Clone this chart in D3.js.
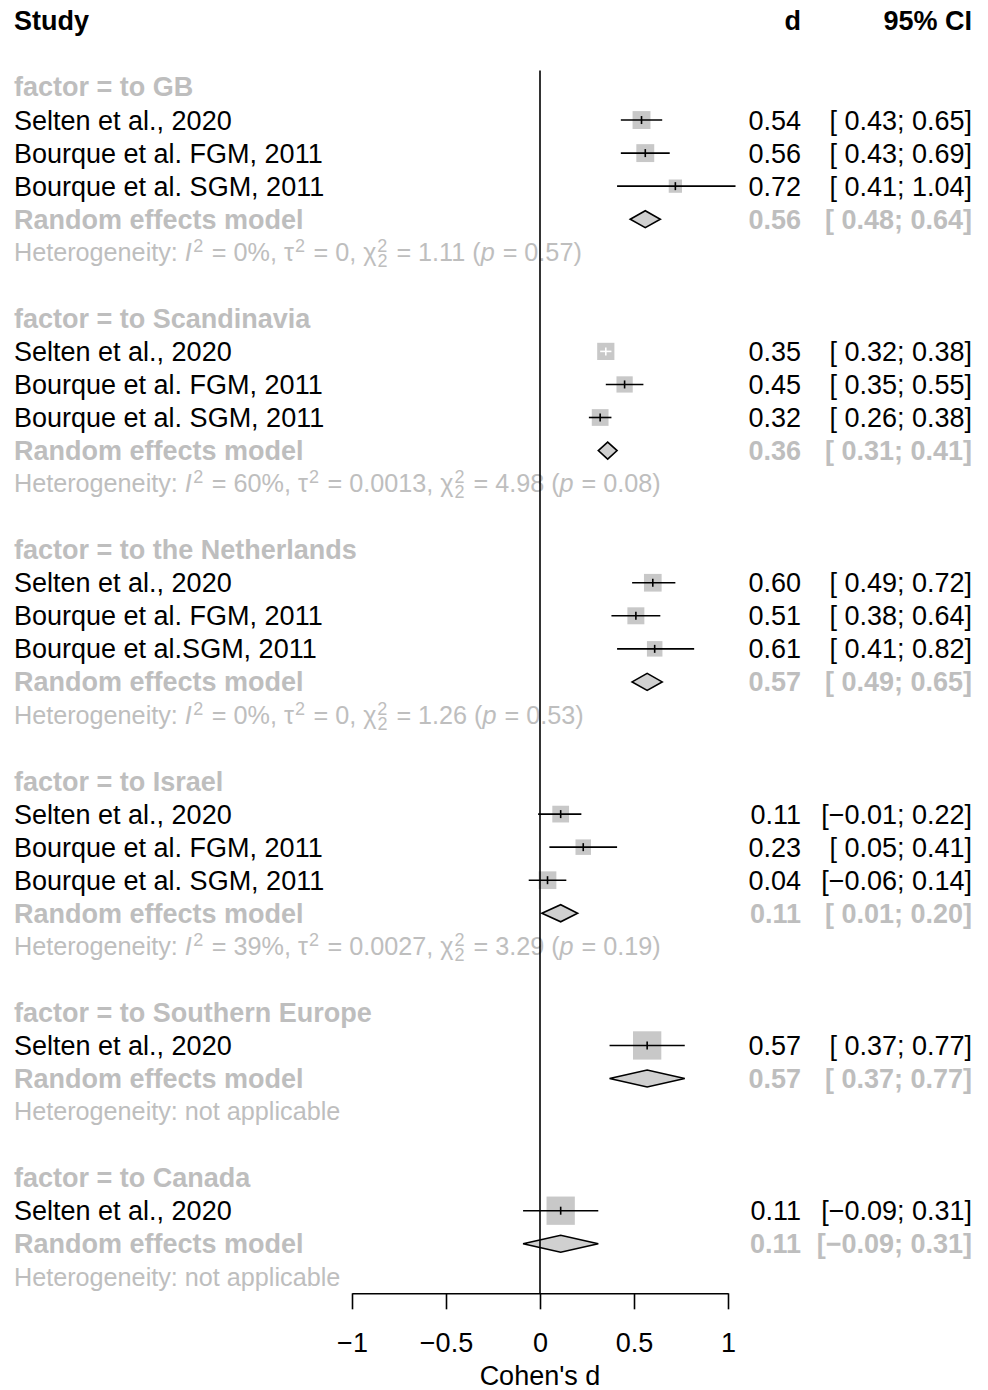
<!DOCTYPE html>
<html>
<head>
<meta charset="utf-8">
<script src="https://cdn.jsdelivr.net/npm/d3@7"></script>
<style>
body { margin: 0; background: #fff; }
text { font-family: "Liberation Sans", Arial, Helvetica, sans-serif; white-space: pre; }
</style>
</head>
<body>
<script>
// subgroups (factor)
const groupLabels = ['to GB', 'to Scandinavia', 'to the Netherlands', 'to Israel', 'to Southern Europe', 'to Canada'];

// single studies
const studyGroup = [0, 0, 0, 1, 1, 1, 2, 2, 2, 3, 3, 3, 4, 5];
const studyNames = [
  'Selten et al., 2020', 'Bourque et al. FGM, 2011', 'Bourque et al. SGM, 2011',
  'Selten et al., 2020', 'Bourque et al. FGM, 2011', 'Bourque et al. SGM, 2011',
  'Selten et al., 2020', 'Bourque et al. FGM, 2011', 'Bourque et al.SGM, 2011',
  'Selten et al., 2020', 'Bourque et al. FGM, 2011', 'Bourque et al. SGM, 2011',
  'Selten et al., 2020',
  'Selten et al., 2020'
];
const studyD  = [0.54, 0.56, 0.72, 0.35, 0.45, 0.32, 0.60, 0.51, 0.61, 0.11, 0.23, 0.04, 0.57, 0.11];
const studyLo = [0.43, 0.43, 0.41, 0.32, 0.35, 0.26, 0.49, 0.38, 0.41, -0.01, 0.05, -0.06, 0.37, -0.09];
const studyHi = [0.65, 0.69, 1.04, 0.38, 0.55, 0.38, 0.72, 0.64, 0.82, 0.22, 0.41, 0.14, 0.77, 0.31];
const studyWeight = [40, 40, 22, 37, 33, 35, 39, 36, 30, 35, 30, 39, 100, 100]; // % within subgroup (estimated)

// random effects model per subgroup
const reD  = [0.56, 0.36, 0.57, 0.11, 0.57, 0.11];
const reLo = [0.48, 0.31, 0.49, 0.01, 0.37, -0.09];
const reHi = [0.64, 0.41, 0.65, 0.20, 0.77, 0.31];

// heterogeneity per subgroup (null = not applicable)
const hetI2   = ['0%', '60%', '0%', '39%', null, null];
const hetTau2 = ['0', '0.0013', '0', '0.0027', null, null];
const hetQ    = ['1.11', '4.98', '1.26', '3.29', null, null];
const hetDf   = ['2', '2', '2', '2', null, null];
const hetP    = ['0.57', '0.08', '0.53', '0.19', null, null];

const xTicks = [-1, -0.5, 0, 0.5, 1];

const W = 988, H = 1390;
const grey = '#bebebe';
const fs = 27, fsHet = 25.2, fsSup = 18;

const svg = d3.select('body').append('svg').attr('width', W).attr('height', H);

// layout rows
const rows = [];
let r = 0;
groupLabels.forEach(function(g, gi) {
  rows.push({ type: 'group', gi: gi, row: r++ });
  studyGroup.forEach(function(sg, si) {
    if (sg === gi) rows.push({ type: 'study', si: si, row: r++ });
  });
  rows.push({ type: 're', gi: gi, row: r++ });
  rows.push({ type: 'het', gi: gi, row: r++ });
  r++; // blank line
});
const lastRow = r - 2;

const y = d3.scaleLinear().domain([0, 1]).range([87, 87 + 33.05]);
const x = d3.scaleLinear().domain([-1, 1]).range([352, 728]);
const size = d3.scaleSqrt().domain([0, 100]).range([0, 28.3]);

const xLeft = 14, xD = 801, xCI = 972;

function fmt(v) { return d3.format('.2f')(Math.abs(v)); }
function ciText(lo, hi) {
  return '[' + (lo < 0 ? '\u2212' : ' ') + fmt(lo) + '; ' + (hi < 0 ? '\u2212' : '') + fmt(hi) + ']';
}
function dText(v) { return (v < 0 ? '\u2212' : '') + fmt(v); }

// header
const head = svg.append('g').attr('font-weight', 'bold').attr('font-size', fs);
head.append('text').attr('x', xLeft).attr('y', y(-2)).attr('dy', '0.35em').text('Study');
head.append('text').attr('x', xD).attr('y', y(-2)).attr('dy', '0.35em').attr('text-anchor', 'end').text('d');
head.append('text').attr('x', xCI).attr('y', y(-2)).attr('dy', '0.35em').attr('text-anchor', 'end').text('95% CI');

const txt = svg.append('g');
const marks = svg.append('g');

function hetLine(gi, yy) {
  // baseline set directly: tspan dy values would override a dy on the text
  const t = txt.append('text').attr('x', xLeft).attr('y', yy + 0.35 * fsHet)
    .attr('font-size', fsHet).attr('fill', grey);
  if (hetI2[gi] == null) { t.text('Heterogeneity: not applicable'); return; }
  let cur = 0;
  function part(s, opt) {
    opt = opt || {};
    const off = opt.off || 0;
    const ts = t.append('tspan').text(s);
    if (off - cur !== 0) ts.attr('dy', off - cur);
    if (opt.dx) ts.attr('dx', opt.dx);
    if (opt.small) ts.attr('font-size', fsSup);
    if (opt.italic) ts.attr('font-style', 'italic');
    cur = off;
  }
  part('Heterogeneity: ');
  part('I', { italic: true });
  part('2', { small: true, off: -9, dx: 1.5 });
  part(' = ' + hetI2[gi] + ', \u03c4', { dx: 1.5 });
  part('2', { small: true, off: -9, dx: 1 });
  part(' = ' + hetTau2[gi] + ', \u03c7', { dx: 1.5 });
  part('2', { small: true, off: -9, dx: 1 });
  part(hetDf[gi], { small: true, off: 6, dx: -10 });
  part(' = ' + hetQ[gi] + ' (', { dx: 2 });
  part('p', { italic: true });
  part(' = ' + hetP[gi] + ')', { dx: 1 });
}

rows.forEach(function(d) {
  const yy = y(d.row);
  if (d.type === 'group') {
    txt.append('text').attr('x', xLeft).attr('y', yy).attr('dy', '0.35em')
      .attr('font-size', fs).attr('font-weight', 'bold').attr('fill', grey)
      .text('factor = ' + groupLabels[d.gi]);
  } else if (d.type === 'study') {
    const i = d.si;
    txt.append('text').attr('x', xLeft).attr('y', yy).attr('dy', '0.35em').attr('font-size', fs)
      .text(studyNames[i]);
    txt.append('text').attr('x', xD).attr('y', yy).attr('dy', '0.35em').attr('font-size', fs)
      .attr('text-anchor', 'end').text(dText(studyD[i]));
    txt.append('text').attr('x', xCI).attr('y', yy).attr('dy', '0.35em').attr('font-size', fs)
      .attr('text-anchor', 'end').text(ciText(studyLo[i], studyHi[i]));
    const s = size(studyWeight[i]);
    marks.append('rect').attr('x', x(studyD[i]) - s / 2).attr('y', yy - s / 2)
      .attr('width', s).attr('height', s).attr('fill', '#c8c8c8');
    // CI inside the square is drawn white
    const inside = x(studyHi[i]) - x(studyLo[i]) < s;
    const col = inside ? '#fff' : '#000';
    marks.append('line').attr('x1', x(studyLo[i])).attr('x2', x(studyHi[i]))
      .attr('y1', yy).attr('y2', yy).attr('stroke', col).attr('stroke-width', 1.6);
    marks.append('line').attr('x1', x(studyD[i])).attr('x2', x(studyD[i]))
      .attr('y1', yy - 4).attr('y2', yy + 4).attr('stroke', col).attr('stroke-width', 1.6);
  } else if (d.type === 're') {
    const gi = d.gi;
    txt.append('text').attr('x', xLeft).attr('y', yy).attr('dy', '0.35em')
      .attr('font-size', fs).attr('font-weight', 'bold').attr('fill', grey)
      .text('Random effects model');
    txt.append('text').attr('x', xD).attr('y', yy).attr('dy', '0.35em').attr('font-size', fs)
      .attr('font-weight', 'bold').attr('fill', grey).attr('text-anchor', 'end').text(dText(reD[gi]));
    txt.append('text').attr('x', xCI).attr('y', yy).attr('dy', '0.35em').attr('font-size', fs)
      .attr('font-weight', 'bold').attr('fill', grey).attr('text-anchor', 'end').text(ciText(reLo[gi], reHi[gi]));
    const h = 8.5;
    marks.append('path')
      .attr('d', 'M' + x(reLo[gi]) + ',' + yy + 'L' + x(reD[gi]) + ',' + (yy - h) +
        'L' + x(reHi[gi]) + ',' + yy + 'L' + x(reD[gi]) + ',' + (yy + h) + 'Z')
      .attr('fill', '#d0d0d0').attr('stroke', '#000').attr('stroke-width', 1.6)
      .attr('stroke-linejoin', 'miter');
  } else if (d.type === 'het') {
    hetLine(d.gi, yy);
  }
});

// reference line at 0 (drawn over the text, like in the original)
const axisY = y(lastRow + 0.5);
svg.append('line').attr('x1', x(0)).attr('x2', x(0)).attr('y1', y(-0.5)).attr('y2', axisY)
  .attr('stroke', '#000').attr('stroke-width', 1.6);

// x axis
const axis = d3.axisBottom(x).tickValues(xTicks).tickSize(16).tickSizeOuter(0).tickPadding(24)
  .tickFormat(function(v) { return v < 0 ? '\u2212' + Math.abs(v) : String(v); });
const ax = svg.append('g').attr('transform', 'translate(0,' + axisY + ')').call(axis);
ax.attr('font-family', null);
ax.select('.domain').attr('stroke-width', 1.6);
ax.selectAll('.tick line').attr('stroke-width', 1.6);
ax.selectAll('.tick text').attr('font-size', fs).attr('fill', '#000');

svg.append('text').attr('x', x(0)).attr('y', 1385).attr('text-anchor', 'middle')
  .attr('font-size', fs).text("Cohen's d");
</script>
</body>
</html>
